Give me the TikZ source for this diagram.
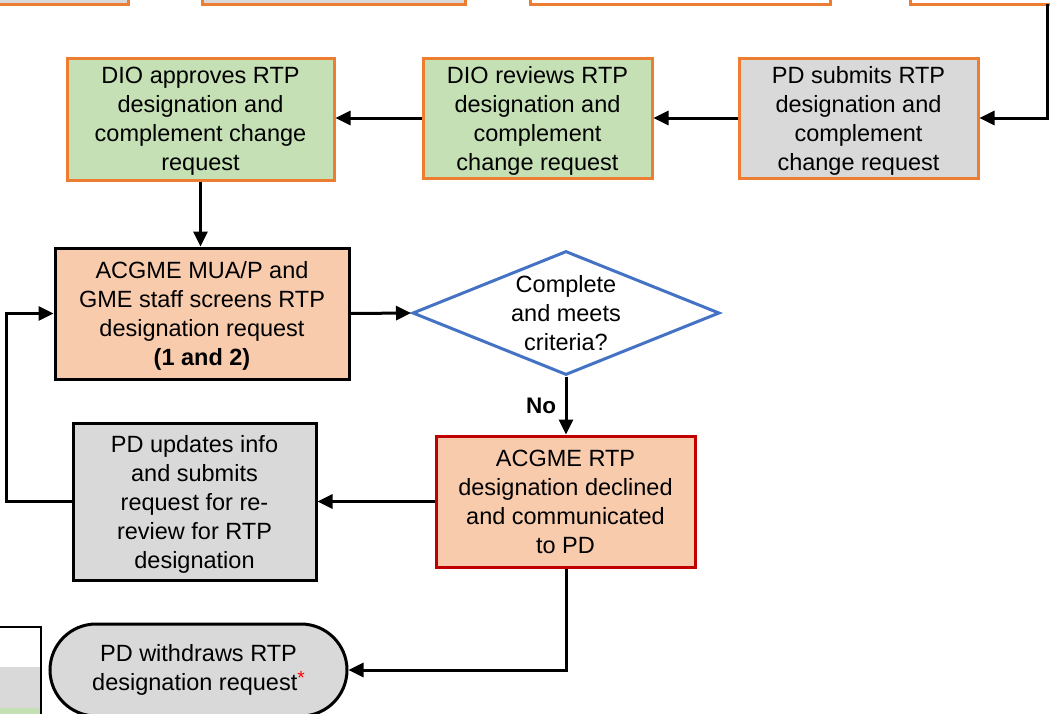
\documentclass[tikz,border=0pt]{standalone}
\usepackage{fontspec}
\setmainfont{Liberation Sans}
\usetikzlibrary{shapes.geometric,arrows.meta,calc}
\definecolor{orng}{HTML}{ED7D31}
\definecolor{grn}{HTML}{C5E0B4}
\definecolor{gry}{HTML}{D9D9D9}
\definecolor{pch}{HTML}{F8CBAD}
\definecolor{dred}{HTML}{C00000}
\definecolor{blu}{HTML}{4472C4}
\tikzset{
  base/.style={draw, line width=3pt, align=center, inner sep=2pt, font=\fontsize{23.5}{29}\selectfont},
  obox/.style={base, draw=orng},
  bbox/.style={base, draw=black},
  conn/.style={line width=3pt, -{Triangle[length=15pt,width=14pt]}},
  stub/.style={draw=orng, line width=3pt},
}
\begin{document}
\begin{tikzpicture}[x=1pt,y=-1pt]
\useasboundingbox (0,0) rectangle (1050,713);
\clip (0,0) rectangle (1050,713);
% partial top boxes
\node[stub, fill=gry, minimum width=160pt, minimum height=60pt] (t1) at (48,-26) {};
\node[stub, fill=gry, minimum width=263pt, minimum height=60pt] (t2) at (333.5,-26) {};
\node[stub, fill=white, minimum width=300pt, minimum height=60pt] (t3) at (680,-26) {};
\node[stub, fill=white, minimum width=180pt, minimum height=60pt] (t4) at (1000,-26) {};
\coordinate (tc) at (1047,4);
% top row
\node[obox, fill=grn, minimum width=267pt, minimum height=122pt, text depth=-4pt] (approve) at (200.5,119)
  {DIO approves RTP\\designation and\\complement change\\request};
\node[obox, fill=grn, minimum width=229pt, minimum height=120pt, text depth=-4pt] (review) at (537.5,118)
  {DIO reviews RTP\\designation and\\complement\\change request};
\node[obox, fill=gry, minimum width=239pt, minimum height=120pt, text depth=-4pt] (submit) at (858.5,118)
  {PD submits RTP\\designation and\\complement\\change request};
% middle
\node[bbox, fill=pch, minimum width=294pt, minimum height=131pt, text depth=-4pt] (screen) at (202,313.5)
  {ACGME MUA/P and\\GME staff screens RTP\\designation request\\\textbf{(1 and 2)}};
\node[base, draw=blu, fill=white, diamond, aspect=2.47, minimum width=307pt, minimum height=124pt, inner sep=0pt] (crit) at (566,313)
  {Complete\\and meets\\criteria?};
\node[base, draw=dred, fill=pch, minimum width=259pt, minimum height=131pt, text depth=-4pt] (declined) at (565.5,501.5)
  {ACGME RTP\\designation declined\\and communicated\\to PD};
\node[bbox, fill=gry, minimum width=243pt, minimum height=157pt, text depth=-4pt] (update) at (194.5,501.5)
  {PD updates info\\and submits\\request for re-\\review for RTP\\designation};
\node[bbox, fill=gry, rounded corners=46pt, minimum width=297pt, minimum height=92pt] (withdraw) at (198.5,670)
  {PD withdraws RTP\\designation request\textcolor{red}{\raisebox{6pt}{\fontsize{19}{19}\selectfont *}}};
% legend fragment
\fill[white] (-10,627) rectangle (41,667);
\fill[gry] (-10,667) rectangle (41,708);
\fill[grn] (-10,708) rectangle (41,720);
\draw[line width=1.5pt] (-10,627) -- (41,627) -- (41,720);
% connectors
\draw[conn] (tc) |- (submit.east);
\draw[conn] (submit.west) -- (review.east);
\draw[conn] (review.west) -- (approve.east |- review.west);
\draw[conn] (approve.south) -- (approve.south |- screen.north);
\draw[conn] (screen.east) -- (crit.west);
\draw[conn] (crit.south) -- node[left=5pt, font=\fontsize{22.5}{26}\selectfont\bfseries] {No} (declined.north -| crit.south);
\draw[conn] (declined.west) -- (update.east |- declined.west);
\draw[conn] (update.west) -- ++(-65,0) |- (screen.west);
\draw[conn] (declined.south -| crit.south) |- (withdraw.east);
\end{tikzpicture}
\end{document}
